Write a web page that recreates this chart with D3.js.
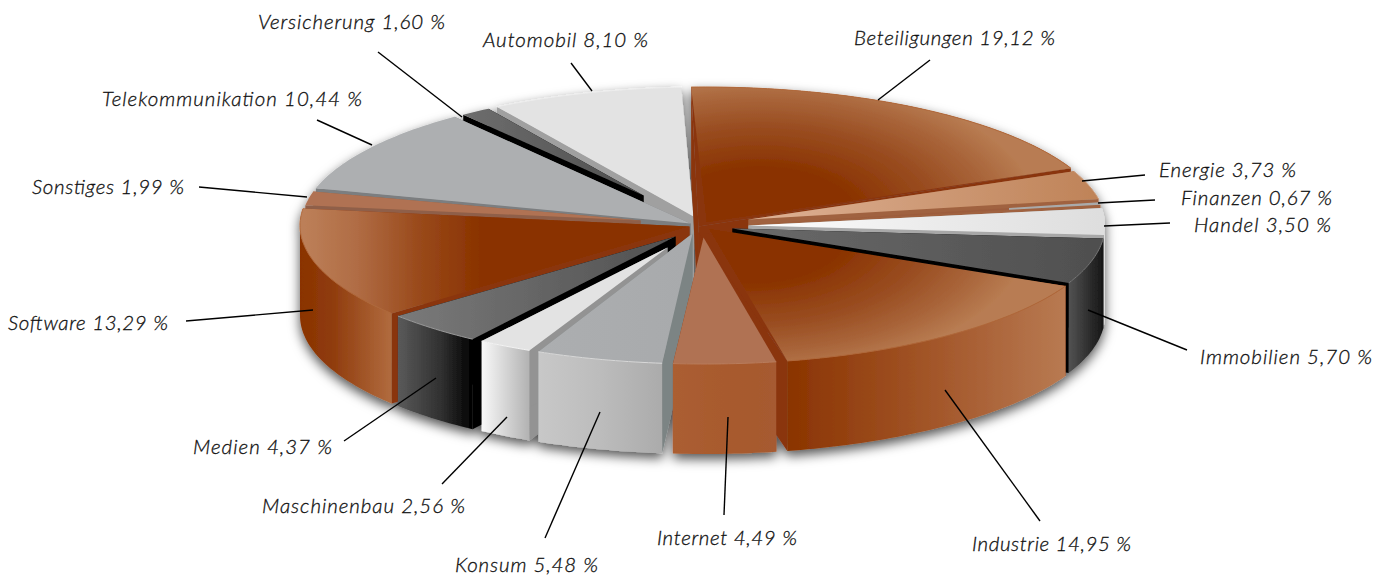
<!DOCTYPE html>
<html><head><meta charset="utf-8">
<script src="https://cdn.jsdelivr.net/npm/d3@7"></script>
<style>html,body{margin:0;background:#fff}svg{display:block}</style>
</head><body><svg id="c" width="1387" height="575"></svg>
<script>
// ---- data ----
const categories = ["Beteiligungen","Energie","Finanzen","Handel","Immobilien","Industrie","Internet","Konsum","Maschinenbau","Medien","Software","Sonstiges","Telekommunikation","Versicherung","Automobil"];
const values = [19.12,3.73,0.67,3.50,5.70,14.95,4.49,5.48,2.56,4.37,13.29,1.99,10.44,1.60,8.10];
// ---- layout ----
const paintOrder = ["Automobil","Versicherung","Telekommunikation","Sonstiges","Software","Beteiligungen","Energie","Finanzen","Handel","Immobilien","Industrie","Medien","Maschinenbau","Konsum","Internet"];
const apexOffset = [[4,-3],[46,-6],[46,-1],[46,0],[30,3],[6,3],[1,12],[-10,8],[-35,22],[-27,11],[-13,1],[-62,-5],[-12,-2],[-59,-30],[-9,-9]];
const wallApexOffset = [[-4,1],null,null,null,null,[-4,7],null,null,null,null,null,null,null,null,null];
const rimShift = [2,1,0,0,0,1,2,1,1,0,0,1,1,2,2];
const endTrimDeg = [0,0,0,0,0,0.35,0,0,0,0,0,0,0,0,0];
const topPaint = [
 {r:[760,215,300,2],stops:[[0,"#8a3300"],[.32,"#8a3300"],[.6,"#9a4e22"],[.78,"#a9653a"],[.93,"#b87c52"],[1,"#b87c52"]]},
 {x:[750,1097],stops:[[0,"#deb296"],[1,"#bf8358"]]},
 {x:[750,1100],stops:[[0,"#9c5c3e"],[.74,"#9c5c3e"],[.741,"#aaaaaa"],[1,"#aaaaaa"]]},
 {x:[750,1100],stops:[[0,"#ffffff"],[.5,"#ececec"],[1,"#dedede"]]},
 {x:[740,1100],stops:[[0,"#6a6a6a"],[1,"#4f4f4f"]]},
 {r:[750,235,300,2],stops:[[0,"#8a3300"],[.32,"#8a3300"],[.6,"#9a4e22"],[.78,"#a9653a"],[.93,"#b87c52"],[1,"#b87c52"]]},
 {x:[673,775],stops:[[0,"#b07252"],[1,"#b07252"]]},
 {x:[540,690],stops:[[0,"#acaeb0"],[1,"#a8aaac"]]},
 {x:[480,670],stops:[[0,"#e3e3e3"],[1,"#e3e3e3"]]},
 {x:[398,675],stops:[[0,"#7a7a7a"],[1,"#505050"]]},
 {x:[305,480],stops:[[0,"#bc7f58"],[.3,"#b06c44"],[.66,"#99491a"],[1,"#8a3300"]]},
 {x:[305,640],stops:[[0,"#b07252"],[1,"#b07252"]]},
 {x:[314,690],stops:[[0,"#adafb1"],[1,"#adafb1"]]},
 {x:[461,643],stops:[[0,"#6e6e6e"],[1,"#4e4e4e"]]},
 {x:[490,690],stops:[[0,"#e3e3e3"],[1,"#e3e3e3"]]}
];
const sidePaint = [
 {x:[690,1070],stops:[[0,"#8a3300"],[1,"#b87c52"]]},
 {x:[1070,1097],stops:[[0,"#b87c52"],[1,"#b87c52"]]},
 {x:[1097,1102],stops:[[0,"#aaa"],[1,"#aaa"]]},
 {x:[1100,1104],stops:[[0,"#ccc"],[1,"#ddd"]]},
 {x:[1067,1102],stops:[[0,"#565656"],[.55,"#333"],[1,"#181818"]]},
 {x:[785,1065],stops:[[0,"#8a3300"],[.6,"#a65b2f"],[1,"#b87a52"]]},
 {x:[673,775],stops:[[0,"#ab5e33"],[.5,"#a85a2d"],[1,"#a65a30"]]},
 {x:[538,663],stops:[[0,"#c8c8c8"],[.5,"#bcbcbc"],[1,"#ababab"]]},
 {x:[482,528],stops:[[0,"#f8f8f8"],[1,"#b4b4b4"]]},
 {x:[398,473],stops:[[0,"#5a5a5a"],[.6,"#2e2e2e"],[1,"#000"]]},
 {x:[300,390],stops:[[0,"#8a3300"],[.35,"#8f3b0c"],[1,"#b06a3d"]]},
 {x:[300,314],stops:[[0,"#8f5f48"],[1,"#8f5f48"]]},
 {x:[314,453],stops:[[0,"#7b7e80"],[1,"#7b7e80"]]},
 {x:[461,486],stops:[[0,"#000"],[1,"#000"]]},
 {x:[497,682],stops:[[0,"#a6a6a6"],[1,"#a6a6a6"]]}
];
const wallColors = ["#8a3510","#a0623f","#a0623f","#a8a8a8","#000000","#8a3510","#8a3510","#7c8484","#939393","#000000","#8a3510","#8f5f48","#7b7e80","#000000","#a0a0a0"];
const rimStrokes = ["#b0683a","#c99a7a","none","none","#777","#b0683a","#b97c5c","#d8d8d8","#f4f4f4","#999","#b0683a","none","none","none","#ececec"];
// label: x, baseline, width; leader: from (outside), to (inside)
const labelPos = [[854,45,201],[1159,177,137],[1181,205,151],[1194,232,137],[1200,364,172],[972,551,159],[657,545,140],[455,572,143],[262,513,203],[193,454,139],[8,330,160],[32,194,152],[102,106,260],[258,29,187],[483,47,165]];
const leaderLines = [[930,60,878,100],[1145,175,1082,181],[1155,200,1098,203],[1170,223,1104,226],[1187,350,1088,310],[1040,521,945,390],[724,515,728,417],[545,538,600,412],[442,484,507,417],[344,441,436,378],[186,321,313,310],[199,187,307,197],[317,120,372,145],[378,52,462,117],[571,63,592,91]];
const cx=702.5, cy=225.5, Rx=402.5, Ry=138.5, depth=90;
const startAngle = -2.6*Math.PI/180, pad = 0.7*Math.PI/180;

// ---- drawing ----
const svg = d3.select("#c");
const defs = svg.append("defs");
const f = defs.append("filter").attr("id","sh").attr("x","-10%").attr("y","-10%").attr("width","120%").attr("height","130%");
f.append("feDropShadow").attr("dx",0).attr("dy",5).attr("stdDeviation",6).attr("flood-color","#000").attr("flood-opacity",.68);

const xs = d3.scaleLinear().domain([-1,1]).range([cx-Rx,cx+Rx]);
const ys = d3.scaleLinear().domain([-1,1]).range([cy-Ry,cy+Ry]);
const pie = d3.pie().sort(null).startAngle(startAngle).endAngle(startAngle+2*Math.PI);
const arcs = pie(values);
const line = d3.line();

function paint(spec,id){
  let g;
  if(spec.r){
    const k = spec.r[3];
    g = defs.append("radialGradient").attr("id",id).attr("gradientUnits","userSpaceOnUse")
      .attr("cx",spec.r[0]).attr("cy",spec.r[1]).attr("r",spec.r[2]).attr("fx",spec.r[0]).attr("fy",spec.r[1])
      .attr("gradientTransform",`translate(0 ${spec.r[1]}) scale(1 ${1/k}) translate(0 ${-spec.r[1]})`);
  } else {
    g = defs.append("linearGradient").attr("id",id).attr("gradientUnits","userSpaceOnUse")
      .attr("x1",spec.x[0]).attr("x2",spec.x[1]).attr("y1",0).attr("y2",0);
  }
  g.selectAll("stop").data(spec.stops).join("stop").attr("offset",d=>d[0]).attr("stop-color",d=>d[1]);
  return `url(#${id})`;
}
function rimPoints(a0,a1,shift){
  const n = Math.max(2,Math.ceil((a1-a0)/(Math.PI/180)));
  return d3.range(n+1).map(i=>{
    const a=a0+(a1-a0)*i/n;
    return [xs(Math.sin(a))+shift,ys(-Math.cos(a))];
  });
}
const down = p=>[p[0],p[1]+depth];
const root = svg.append("g").attr("filter","url(#sh)");

paintOrder.forEach(name=>{
  const i = categories.indexOf(name), d = arcs[i];
  const a0 = d.startAngle+pad, a1 = d.endAngle-pad-endTrimDeg[i]*Math.PI/180;
  const rim = rimPoints(a0,a1,rimShift[i]);
  const A = [cx+apexOffset[i][0],cy+apexOffset[i][1]];
  const W = wallApexOffset[i] ? [cx+wallApexOffset[i][0],cy+wallApexOffset[i][1]] : A;
  const g = root.append("g").attr("class","slice").attr("data-name",name);
  const Rs = rim[0], Re = rim[rim.length-1];
  const wall = wallColors[i];
  // radial walls
  [Rs,Re].forEach(R=>{
    g.append("path").attr("d",line([W,R,down(R),down(W)])+"Z").attr("fill",wall);
  });
  if(W!==A) g.append("path").attr("d",line([W,...rim])+"Z").attr("fill",wall);
  // outer side: only the front half of the ellipse faces the viewer
  const fa0 = Math.max(a0,Math.PI/2), fa1 = Math.min(a1,3*Math.PI/2);
  if(fa1>fa0){
    const front = rimPoints(fa0,fa1,rimShift[i]);
    g.append("path").attr("d",line([...front,...front.slice().reverse().map(down)])+"Z").attr("fill",paint(sidePaint[i],"s"+i));
  }
  // top
  g.append("path").attr("d",line([A,...rim])+"Z").attr("fill",paint(topPaint[i],"t"+i));
  if(rimStrokes[i]!=="none") g.append("path").attr("d",line(rim)).attr("fill","none").attr("stroke",rimStrokes[i]).attr("stroke-width",1);
});

svg.append("g").selectAll("line").data(leaderLines).join("line")
  .attr("x1",d=>d[0]).attr("y1",d=>d[1]).attr("x2",d=>d[2]).attr("y2",d=>d[3])
  .attr("stroke","#000").attr("stroke-width",1.4);

const fmt = v=>d3.format(".2f")(v).replace(".",",")+" %";
svg.append("g").selectAll("text").data(categories).join("text")
  .attr("x",(d,i)=>labelPos[i][0]).attr("y",(d,i)=>labelPos[i][1])
  .attr("textLength",(d,i)=>labelPos[i][2]).attr("lengthAdjust","spacing")
  .attr("font-family","Lato, 'Open Sans', sans-serif").attr("font-style","italic").attr("font-weight",300).attr("font-size",20.5)
  .attr("fill","#111").attr("stroke","#111").attr("stroke-width",0.3)
  .text((d,i)=>d+" "+fmt(values[i]));
</script></body></html>
